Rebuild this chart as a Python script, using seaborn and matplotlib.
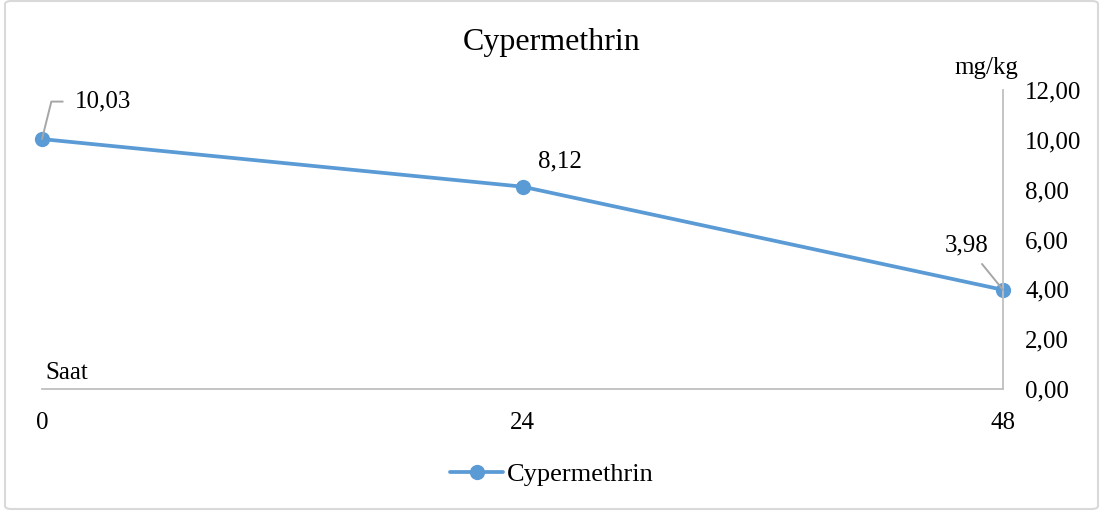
import matplotlib
matplotlib.use("Agg")
import matplotlib.pyplot as plt
import seaborn as sns
import pandas as pd
from matplotlib.patches import FancyBboxPatch
from matplotlib.lines import Line2D

hours = [0, 24, 48]
values = [10.03, 8.12, 3.98]
series_name = "Cypermethrin"
y_ticks = [0, 2, 4, 6, 8, 10, 12]

sns.set_theme(style="white")
plt.rcParams['font.family'] = ['Liberation Serif', 'DejaVu Serif']
plt.rcParams['text.color'] = 'black'
plt.rcParams['xtick.color'] = 'black'
plt.rcParams['ytick.color'] = 'black'

FS = 18

df = pd.DataFrame({"Saat": hours, "mg/kg": values, "seri": series_name})

fig = plt.figure(figsize=(11.04, 5.18), dpi=100)
ax = fig.add_axes([42/1104, 1-389/518, (1003-42)/1104, (389-90)/518])

color = "#5B9BD5"
LW = 2.7
MS = 11
sns.lineplot(data=df, x="Saat", y="mg/kg", hue="seri", palette=[color], ax=ax,
             marker="o", markersize=MS, linewidth=LW, markeredgewidth=0,
             legend=False, clip_on=False)

ax.set_xlim(0, 48)
ax.set_ylim(0, 12)
ax.set_xticks(hours)
ax.set_xticklabels([str(h) for h in hours], fontsize=FS)
ax.set_yticks(y_ticks)
ax.set_yticklabels([f"{t:.2f}".replace(".", ",") for t in y_ticks], fontsize=FS)
ax.yaxis.tick_right()
ax.tick_params(axis='y', length=0, pad=16)
ax.tick_params(axis='x', length=0, pad=16.5)
ax.set_xlabel("")
ax.set_ylabel("")
for s in ["top", "left"]:
    ax.spines[s].set_visible(False)
for s in ["bottom", "right"]:
    ax.spines[s].set_color("#BFBFBF")
    ax.spines[s].set_linewidth(1.3)
ax.grid(False)

# axis titles
ax.text(0.003, (389-373)/299, "Saat", transform=ax.transAxes, fontsize=FS, ha="left", va="center")
ax.text((1018-42)/961, (389-68)/299, "mg/kg", transform=ax.transAxes, fontsize=FS, ha="right", va="center")

# data labels
lbl = [f"{v:.2f}".replace(".", ",") for v in values]
ax.annotate(lbl[0], xy=(hours[0], values[0]), xytext=(23.8, 27), textcoords="offset points",
            fontsize=FS, ha="left", va="center",
            arrowprops=dict(arrowstyle="-", color="#A6A6A6", lw=1.4, relpos=(0, 0.5),
                            connectionstyle="angle,angleA=0,angleB=76,rad=0",
                            shrinkA=6.5, shrinkB=0))
ax.annotate(lbl[1], xy=(hours[1], values[1]), xytext=(27, 18), textcoords="offset points",
            fontsize=FS, ha="center", va="center")
ax.annotate(lbl[2], xy=(hours[2], values[2]), xytext=(-26, 32), textcoords="offset points",
            fontsize=FS, ha="center", va="center",
            arrowprops=dict(arrowstyle="-", color="#A6A6A6", lw=1.4, shrinkA=4, shrinkB=0))

fig.text(0.5, 1-42/518, "Cypermethrin", fontsize=23, ha="center", va="center")

# legend
h = Line2D([0], [0], color=color, lw=LW, marker="o", markersize=MS, markeredgewidth=0)
fig.legend([h], [series_name], loc="center", bbox_to_anchor=(0.5, 1-474/518),
           frameon=False, fontsize=19, handlelength=2.0, handletextpad=0.15)

# outer border
border = FancyBboxPatch((5/1104, 9/518), 1093/1104, 508/518,
                        boxstyle="round,pad=0,rounding_size=0.006",
                        transform=fig.transFigure, fill=False,
                        edgecolor="#D9D9D9", lw=1.5)
fig.patches.append(border)

fig.savefig("out.png", dpi=100)
